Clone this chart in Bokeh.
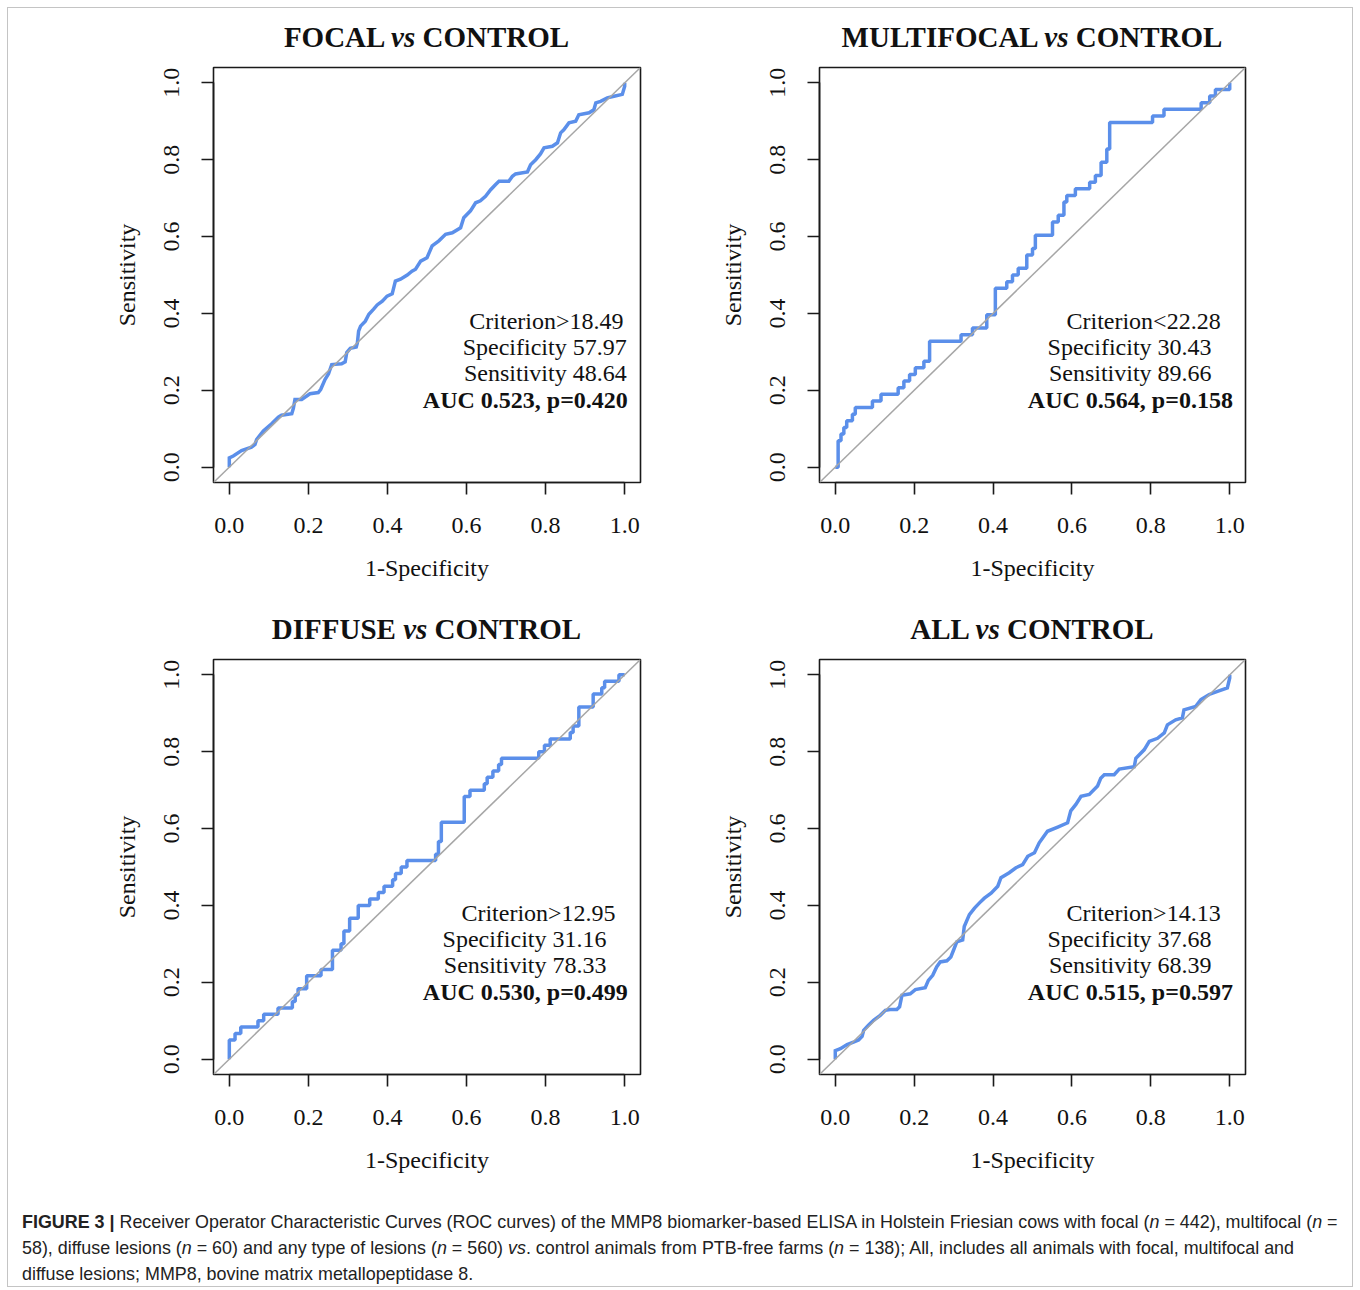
from bokeh.plotting import figure
from bokeh.models import Label, Slope, FixedTicker, PrintfTickFormatter, Div, Range1d
from bokeh.layouts import column, row
from bokeh.embed import file_html
from bokeh.resources import INLINE

# ---------------- data ----------------
TICKS = [0.0, 0.2, 0.4, 0.6, 0.8, 1.0]

TITLE_GROUPS = ["FOCAL", "MULTIFOCAL", "DIFFUSE", "ALL"]
TITLE_REF = "CONTROL"

CRITERIA = ["Criterion>18.49", "Criterion<22.28", "Criterion>12.95", "Criterion>14.13"]
SPECIFICITY = ["57.97", "30.43", "31.16", "37.68"]
SENSITIVITY = ["48.64", "89.66", "78.33", "68.39"]
AUC = ["0.523", "0.564", "0.530", "0.515"]
PVAL = ["0.420", "0.158", "0.499", "0.597"]

N_CONTROL = 138
N_MULTIFOCAL = 58
N_DIFFUSE = 60

# focal (n=442): dense curve, polyline of (1-specificity, sensitivity)
FOCAL_FPR = [0, 0, 0.010, 0.031, 0.056, 0.065, 0.069, 0.086, 0.107, 0.124, 0.132, 0.158, 0.162, 0.166,
             0.183, 0.204, 0.225, 0.231, 0.242, 0.251, 0.259, 0.284, 0.293, 0.297, 0.306, 0.321, 0.324,
             0.327, 0.332, 0.344, 0.353, 0.365, 0.374, 0.387, 0.399, 0.412, 0.420, 0.433, 0.450, 0.462,
             0.471, 0.484, 0.500, 0.513, 0.530, 0.547, 0.564, 0.585, 0.593, 0.610, 0.623, 0.635, 0.648,
             0.661, 0.673, 0.682, 0.707, 0.716, 0.724, 0.754, 0.762, 0.775, 0.787, 0.796, 0.817, 0.830,
             0.838, 0.846, 0.859, 0.876, 0.884, 0.910, 0.922, 0.927, 0.939, 0.956, 0.973, 0.994, 1.0, 1.0]
FOCAL_TPR = [0, 0.024, 0.029, 0.043, 0.052, 0.059, 0.072, 0.094, 0.113, 0.130, 0.135, 0.139, 0.153, 0.176,
             0.176, 0.191, 0.194, 0.202, 0.228, 0.243, 0.267, 0.269, 0.274, 0.298, 0.309, 0.3125, 0.324,
             0.354, 0.367, 0.380, 0.398, 0.411, 0.422, 0.432, 0.445, 0.451, 0.484, 0.489, 0.500, 0.510,
             0.515, 0.536, 0.545, 0.576, 0.589, 0.606, 0.610, 0.623, 0.649, 0.667, 0.688, 0.693, 0.705,
             0.722, 0.735, 0.744, 0.744, 0.757, 0.763, 0.768, 0.787, 0.800, 0.815, 0.831, 0.835, 0.844,
             0.870, 0.878, 0.896, 0.900, 0.917, 0.922, 0.930, 0.948, 0.952, 0.961, 0.965, 0.970, 0.991, 1.0]

# multifocal (n=58): step corners as counts (false positives of 138, true positives of 58)
MULTI_FP = [0, 1, 2, 3, 4, 6, 7, 13, 16, 22, 24, 26, 28, 31, 33, 44, 48, 53, 56, 60, 62, 64, 67, 69, 70,
            76, 78, 80, 81, 84, 89, 91, 93, 95, 96, 111, 115, 128, 131, 133, 138]
MULTI_TP = [0, 4, 5, 6, 7, 8, 9, 10, 11, 12, 13, 14, 15, 16, 19, 20, 21, 23, 27, 28, 29, 30, 32, 33, 35,
            37, 38, 40, 41, 42, 43, 44, 46, 48, 52, 53, 54, 55, 56, 57, 58]

# diffuse (n=60): step corners as counts (false positives of 138, true positives of 60)
DIFF_FP = [0, 0, 2, 4, 10, 12, 17, 22, 23, 24, 27, 32, 36, 39, 40, 42, 45, 49, 52, 54, 57, 58, 60, 62,
           72, 73, 74, 82, 84, 89, 90, 92, 94, 95, 108, 110, 112, 119, 120, 122, 127, 130, 131, 136, 138]
DIFF_TP = [0, 3, 4, 5, 6, 7, 8, 9, 10, 11, 13, 14, 17, 18, 20, 22, 24, 25, 26, 27, 28, 29, 30, 31,
           32, 34, 37, 41, 42, 43, 44, 45, 46, 47, 48, 49, 50, 51, 52, 55, 57, 58, 59, 60, 60]

# all lesions (n=560): dense curve
ALL_FPR = [0, 0, 0.013, 0.030, 0.046, 0.059, 0.068, 0.072, 0.084, 0.097, 0.114, 0.127, 0.139, 0.156, 0.163,
           0.169, 0.190, 0.203, 0.228, 0.236, 0.247, 0.257, 0.266, 0.283, 0.293, 0.300, 0.308, 0.323,
           0.327, 0.340, 0.353, 0.365, 0.378, 0.395, 0.412, 0.420, 0.441, 0.458, 0.475, 0.488, 0.505,
           0.517, 0.538, 0.564, 0.589, 0.597, 0.610, 0.623, 0.644, 0.665, 0.673, 0.682, 0.707, 0.720,
           0.758, 0.762, 0.783, 0.796, 0.817, 0.834, 0.842, 0.863, 0.880, 0.884, 0.914, 0.927, 0.948,
           0.969, 0.994, 1.0, 1.0]
ALL_TPR = [0, 0.022, 0.027, 0.038, 0.044, 0.050, 0.059, 0.075, 0.088, 0.101, 0.114, 0.127, 0.129, 0.129,
           0.136, 0.166, 0.170, 0.181, 0.186, 0.205, 0.218, 0.240, 0.253, 0.256, 0.266, 0.284, 0.305,
           0.310, 0.345, 0.376, 0.393, 0.406, 0.419, 0.432, 0.450, 0.472, 0.485, 0.498, 0.506, 0.528,
           0.537, 0.563, 0.593, 0.604, 0.615, 0.646, 0.663, 0.684, 0.689, 0.711, 0.731, 0.740, 0.740,
           0.755, 0.761, 0.783, 0.805, 0.827, 0.835, 0.849, 0.870, 0.883, 0.888, 0.909, 0.918, 0.936,
           0.949, 0.957, 0.966, 0.992, 1.0]

# ---------------- styling ----------------
SERIF = "Liberation Serif"
BLUE = "#5B8FEA"
GRAY = "#a6a6a6"
TITLE_SIZE = 29
TEXT_SIZE = 24
TITLE_H = 52


def make_panel(i, curve, left_border, right_border, text_dx):
    p = figure(width=672, height=592 - TITLE_H, output_backend="svg", toolbar_location=None,
               x_range=Range1d(-0.04, 1.04), y_range=Range1d(-0.04, 1.04),
               min_border_left=left_border, min_border_right=right_border,
               min_border_top=7, min_border_bottom=118,
               x_axis_label="1-Specificity", y_axis_label="Sensitivity")
    p.grid.visible = False
    p.outline_line_color = "#1a1a1a"
    p.outline_line_width = 1.6
    p.background_fill_color = "white"
    p.border_fill_color = "white"
    for ax in (p.xaxis[0], p.yaxis[0]):
        ax.ticker = FixedTicker(ticks=TICKS)
        ax.formatter = PrintfTickFormatter(format="%.1f")
        ax.bounds = (0, 1)
        ax.axis_line_color = "#1a1a1a"
        ax.axis_line_width = 1.6
        ax.major_tick_line_color = "#1a1a1a"
        ax.major_tick_line_width = 1.6
        ax.major_tick_out = 12
        ax.major_tick_in = 0
        ax.minor_tick_line_color = None
        ax.major_label_text_font = SERIF
        ax.major_label_text_font_size = f"{TEXT_SIZE}px"
        ax.major_label_text_color = "#111111"
        ax.axis_label_text_font = SERIF
        ax.axis_label_text_font_size = f"{TEXT_SIZE}px"
        ax.axis_label_text_font_style = "normal"
        ax.axis_label_text_color = "#111111"
    p.xaxis.major_label_standoff = 23
    p.xaxis.axis_label_standoff = 19
    p.yaxis.major_label_orientation = "parallel"
    p.yaxis.major_label_standoff = 22
    p.yaxis.axis_label_standoff = 22

    p.add_layout(Slope(gradient=1, y_intercept=0, line_color=GRAY, line_width=1.5))

    kind, xs, ys = curve
    if kind == "step":
        p.step(xs, ys, mode="after", line_color=BLUE, line_width=3.5)
    else:
        p.line(xs, ys, line_color=BLUE, line_width=3.5, line_join="miter")

    # statistics block
    lines = [(CRITERIA[i], "normal"), ("Specificity " + SPECIFICITY[i], "normal"),
             ("Sensitivity " + SENSITIVITY[i], "normal"),
             ("AUC " + AUC[i] + ", p=" + PVAL[i], "bold")]
    ys_txt = [0.380, 0.3125, 0.245, 0.174]
    for (txt, style), ty, dx in zip(lines, ys_txt, text_dx):
        p.add_layout(Label(x=dx, y=ty, text=txt, text_align="right", text_baseline="middle",
                           text_font=SERIF, text_font_size=f"{TEXT_SIZE}px", text_font_style=style,
                           text_color="#111111"))

    frame_w = 672 - left_border - right_border
    title = Div(
        text=(f'<div style="margin-left:{left_border}px; width:{frame_w}px; text-align:center; '
              f'font-family:\'{SERIF}\'; font-weight:bold; font-size:{TITLE_SIZE}px; '
              f'line-height:{TITLE_SIZE}px; padding-top:15px; color:#111; white-space:nowrap;">'
              f'{TITLE_GROUPS[i]} <i>vs</i> {TITLE_REF}</div>'),
        width=672, height=TITLE_H, margin=0)
    return column(title, p)


multi_x = [v / N_CONTROL for v in MULTI_FP]
multi_y = [v / N_MULTIFOCAL for v in MULTI_TP]
diff_x = [v / N_CONTROL for v in DIFF_FP]
diff_y = [v / N_DIFFUSE for v in DIFF_TP]

DX_A = [0.997, 1.005, 1.005, 1.008]
DX_B = [0.977, 0.954, 0.954, 1.008]

p1 = make_panel(0, ("line", FOCAL_FPR, FOCAL_TPR), 205, 40, DX_A)
p2 = make_panel(1, ("step", multi_x, multi_y), 139, 107, DX_B)
p3 = make_panel(2, ("step", diff_x, diff_y), 205, 40, DX_B)
p4 = make_panel(3, ("line", ALL_FPR, ALL_TPR), 139, 107, DX_B)

caption_html = (
    '<div style="font-family: \'Liberation Sans\', Arial, sans-serif; '
    'font-size: 17.9px; line-height: 26px; color: #222; padding: 17px 0 0 14px; white-space: nowrap;">'
    '<b>FIGURE 3 |</b> Receiver Operator Characteristic Curves (ROC curves) of the MMP8 biomarker-based '
    'ELISA in Holstein Friesian cows with focal (<i>n</i> = 442), multifocal (<i>n</i> =<br>'
    '58), diffuse lesions (<i>n</i> = 60) and any type of lesions (<i>n</i> = 560) <i>vs</i>. control '
    'animals from PTB-free farms (<i>n</i> = 138); All, includes all animals with focal, multifocal and<br>'
    'diffuse lesions; MMP8, bovine matrix metallopeptidase 8.</div>'
)
caption = Div(text=caption_html, width=1344, height=94, margin=0)

layout = column(row(p1, p2), row(p3, p4), caption,
                styles={"border": "1px solid #c4c4c4", "background-color": "white",
                        "margin": "7px 0 0 7px"})

open("out.html", "w").write(file_html(layout, INLINE))
